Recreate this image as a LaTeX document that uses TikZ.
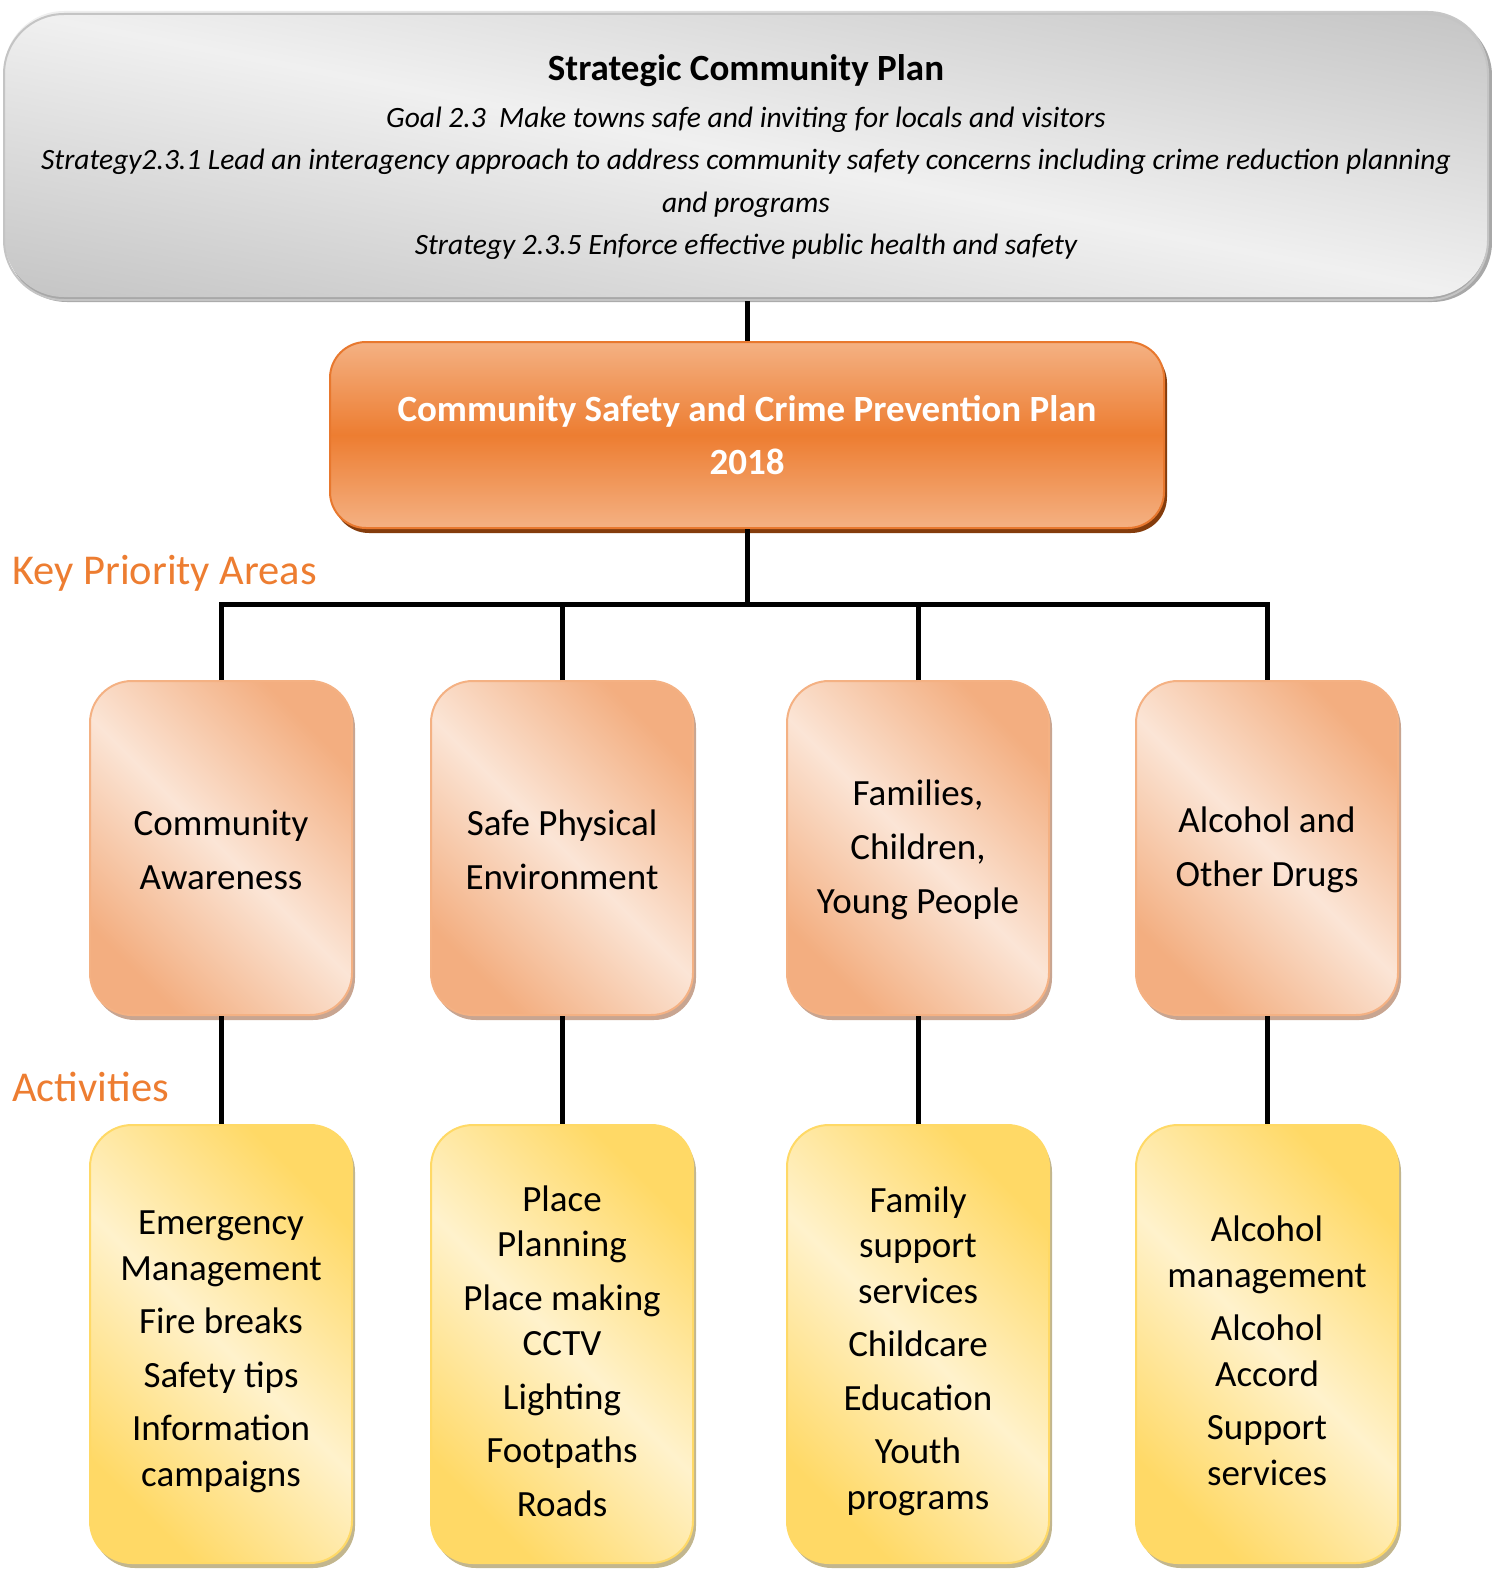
\documentclass[tikz,border=0pt]{standalone}
\usepackage{fontspec}
\setmainfont{Carlito}
\usetikzlibrary{shadows}
\definecolor{grayL}{HTML}{F0F0F0}
\definecolor{grayD}{HTML}{C4C4C4}
\definecolor{grayB}{HTML}{C4C4C4}
\definecolor{grayS}{HTML}{A8A8A8}
\definecolor{orM}{HTML}{ED7D31}
\definecolor{orL}{HTML}{F4B183}
\definecolor{orB}{HTML}{E8782E}
\definecolor{orS}{HTML}{843C0C}
\definecolor{pkL}{HTML}{FBE5D6}
\definecolor{pkD}{HTML}{F3AE80}
\definecolor{pkS}{HTML}{C8A591}
\definecolor{yeL}{HTML}{FFF2CC}
\definecolor{yeD}{HTML}{FFD966}
\definecolor{yeS}{HTML}{C2B68E}
\definecolor{lbl}{HTML}{ED7D31}
\begin{document}
\begin{tikzpicture}[x=1pt,y=-1pt,
  conn/.style={line width=5pt, black},
  topbox/.style={rounded corners=60pt, inner sep=0pt, align=center,
    minimum width=1484pt, minimum height=286pt, draw=grayB, line width=2pt,
    font=\fontsize{29.5}{42.3}\selectfont\itshape},
  planbox/.style={rounded corners=36pt, inner sep=0pt, align=center,
    minimum width=834pt, minimum height=186pt, draw=orB, line width=2pt,
    top color=orL, bottom color=orL, middle color=orM,
    drop shadow={shadow xshift=3pt, shadow yshift=-5pt, fill=orS, opacity=1},
    text=white, font=\fontsize{37}{53}\selectfont\bfseries},
  keybox/.style={rounded corners=42pt, inner sep=0pt,
    minimum width=262pt, minimum height=334pt, draw=orL, line width=2pt,
    top color=pkD, bottom color=pkD, middle color=pkL, shading angle=-45,
    drop shadow={shadow xshift=3pt, shadow yshift=-5pt, fill=pkS, opacity=1}},
  keytext/.style={align=center, inner sep=0pt, font=\fontsize{37}{54}\selectfont},
  actbox/.style={rounded corners=42pt, inner sep=0pt,
    minimum width=262pt, minimum height=438pt, draw=yeD, line width=2pt,
    top color=yeD, bottom color=yeD, middle color=yeL, shading angle=-45,
    drop shadow={shadow xshift=3pt, shadow yshift=-5pt, fill=yeS, opacity=1}},
  acttext/.style={align=center, inner sep=0pt, font=\fontsize{37}{45.5}\selectfont},
  lab/.style={text=lbl, anchor=west, inner sep=0pt, font=\fontsize{42.5}{50}\selectfont}
]
\useasboundingbox (0,0) rectangle (1491,1570);

% background of the top box: shadow and diagonal shading
\fill[grayS, rounded corners=60pt] (7,16) rectangle (1492,302);
\begin{scope}
  \clip[rounded corners=60pt] (4,11) rectangle (1488,297);
  \shade[top color=grayD, bottom color=grayD, middle color=grayL,
    transform canvas={rotate around={-11:(746,154)}}]
    (-54,-131) rectangle (1546,439);
\end{scope}

\node[topbox] (top) at (746,157) {%
  {\fontsize{37}{42.3}\selectfont\upshape\bfseries Strategic Community Plan}\\[4.5pt]
  Goal 2.3\ \ Make towns safe and inviting for locals and visitors\\
  Strategy2.3.1 Lead an interagency approach to address community safety concerns including crime reduction planning\\
  and programs\\
  Strategy 2.3.5 Enforce effective public health and safety};

\node[planbox] (plan) at (747,435) {Community Safety and Crime Prevention Plan\\2018};

\node[lab] (kpa) at (12,573) {Key Priority Areas};
\node[lab] (act) at (12,1087) {Activities};

\node[keybox] (k1) at (221,848) {};
\node[keybox] (k2) at (562,848) {};
\node[keybox] (k3) at (918,848) {};
\node[keybox] (k4) at (1267,848) {};
\node[keytext] (k1t) at ([yshift=-2pt]k1.center) {Community\\Awareness};
\node[keytext] (k2t) at ([yshift=-2pt]k2.center) {Safe Physical\\Environment};
\node[keytext] (k3t) at ([yshift=-2pt]k3.center) {Families,\\Children,\\Young People};
\node[keytext] (k4t) at ([yshift=-2pt]k4.center) {Alcohol and\\Other Drugs};

\node[actbox] (a1) at (221,1344) {};
\node[actbox] (a2) at (562,1344) {};
\node[actbox] (a3) at (918,1344) {};
\node[actbox] (a4) at (1267,1344) {};
\node[acttext] (a1t) at ([yshift=-8pt]a1.center) {Emergency\\Management\\[8pt]Fire breaks\\[8pt]Safety tips\\[8pt]Information\\campaigns};
\node[acttext] (a2t) at ([yshift=-7pt]a2.center) {Place\\Planning\\[8pt]Place making\\CCTV\\[8pt]Lighting\\[8pt]Footpaths\\[8pt]Roads};
\node[acttext] (a3t) at ([yshift=-7pt]a3.center) {Family\\support\\services\\[8pt]Childcare\\[8pt]Education\\[8pt]Youth\\programs};
\node[acttext] (a4t) at ([yshift=-7pt]a4.center) {Alcohol\\management\\[8pt]Alcohol\\Accord\\[8pt]Support\\services};

\coordinate (bus) at (747,604);
\draw[conn] (plan.north |- top.south) -- (plan.north);
\draw[conn] (plan.south) -- (bus);
\draw[conn] (k1.north) |- (bus) -| (k4.north);
\draw[conn] (k2.north) -- (k2.north |- bus);
\draw[conn] (k3.north) -- (k3.north |- bus);
\draw[conn] (k1.south) -- (a1.north);
\draw[conn] (k2.south) -- (a2.north);
\draw[conn] (k3.south) -- (a3.north);
\draw[conn] (k4.south) -- (a4.north);
\end{tikzpicture}
\end{document}
